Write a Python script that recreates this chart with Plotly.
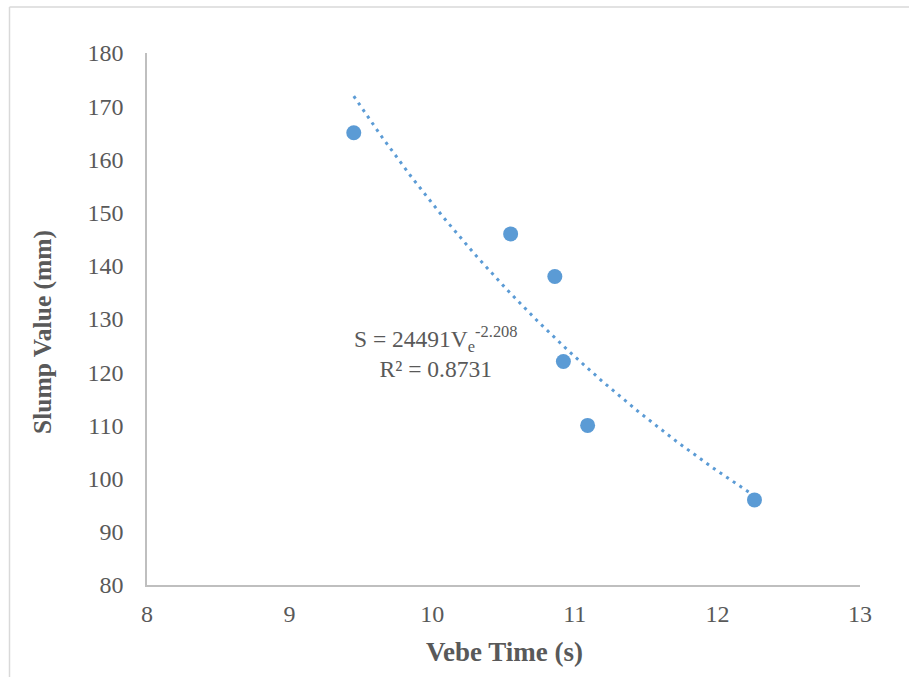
import numpy as np
import plotly.graph_objects as go

# Data
vebe_time = [9.45, 10.55, 10.86, 10.92, 11.09, 12.26]
slump_value = [165, 146, 138, 122, 110, 96]

# Power trendline coefficients (as displayed in chart)
coef_a = 24491
coef_b = -2.208
r_squared = 0.8731

x_ticks = [8, 9, 10, 11, 12, 13]
y_ticks = [80, 90, 100, 110, 120, 130, 140, 150, 160, 170, 180]

W, H = 909, 677
L, R, T, B = 147, 860, 53, 585

def px_x(p):
    return (p - L) / (R - L)

def px_y(p):
    return (B - p) / (B - T)

tx = np.linspace(min(vebe_time), max(vebe_time), 200)
ty = coef_a * tx ** coef_b

blue = "#5B9BD5"
txt = "#595959"
font_family = "Liberation Serif"

fig = go.Figure()
fig.add_trace(go.Scatter(x=tx, y=ty, mode="lines",
                         line=dict(color=blue, width=3, dash="3px,5px"),
                         hoverinfo="skip", showlegend=False))
fig.add_trace(go.Scatter(x=vebe_time, y=slump_value, mode="markers",
                         marker=dict(color=blue, size=15),
                         showlegend=False))

fig.update_layout(
    width=W, height=H,
    margin=dict(l=L, r=W - R, t=T, b=H - B),
    paper_bgcolor="white", plot_bgcolor="white",
    font=dict(family=font_family, color=txt, size=24),
    xaxis=dict(range=[8, 13], tickvals=x_ticks, showgrid=False, zeroline=False,
               showline=True, linecolor="#BFBFBF", linewidth=1.5,
               ticks="", ticklabelstandoff=6,
               tickfont=dict(size=24, color=txt, family=font_family)),
    yaxis=dict(range=[80, 180], tickvals=y_ticks, showgrid=False, zeroline=False,
               showline=True, linecolor="#BFBFBF", linewidth=1.5,
               ticks="", ticklabelstandoff=17,
               tickfont=dict(size=24, color=txt, family=font_family)),
    shapes=[
        dict(type="line", xref="paper", yref="paper",
             x0=px_x(9.5), x1=px_x(9.5), y0=px_y(H + 5), y1=px_y(7),
             line=dict(color="#D9D9D9", width=1.5)),
        dict(type="line", xref="paper", yref="paper",
             x0=px_x(9.5), x1=px_x(W + 5), y0=px_y(7), y1=px_y(7),
             line=dict(color="#D9D9D9", width=1.5)),
    ],
    annotations=[
        dict(text="<b>Vebe Time (s)</b>", xref="paper", yref="paper",
             x=px_x(504), y=px_y(652), showarrow=False,
             font=dict(size=27, color=txt, family=font_family),
             xanchor="center", yanchor="middle"),
        dict(text="<b>Slump Value (mm)</b>", xref="paper", yref="paper",
             x=px_x(42), y=px_y(332), showarrow=False, textangle=-90,
             font=dict(size=25.5, color=txt, family=font_family),
             xanchor="center", yanchor="middle"),
        dict(text=f"S = {coef_a}V<sub>e</sub><sup>{coef_b}</sup><br>R² = {r_squared}",
             xref="paper", yref="paper", x=px_x(436), y=px_y(352),
             showarrow=False, align="center",
             font=dict(size=23.5, color=txt, family=font_family),
             xanchor="center", yanchor="middle"),
    ],
)

fig.write_html("out.html")
